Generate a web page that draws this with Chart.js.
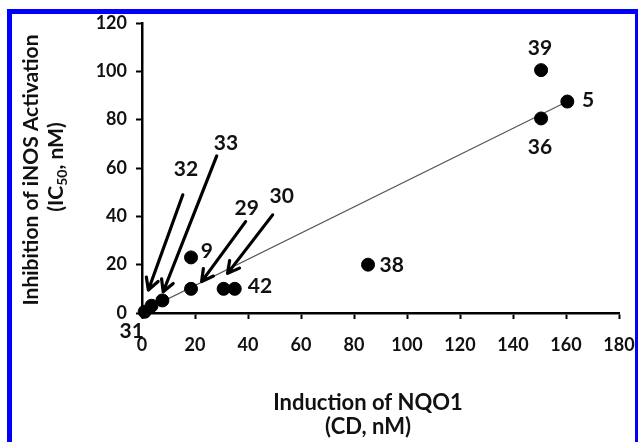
<!DOCTYPE html>
<html>
<head>
<meta charset="utf-8">
<script src="https://cdn.jsdelivr.net/npm/chart.js@4"></script>
<style>
  html, body { margin: 0; padding: 0; background: #fff; }
  #wrap { position: relative; width: 638px; height: 442px; }
  #frame {
    position: absolute; left: 7px; top: 9px; width: 623px; height: 440px;
    border-top: 5px solid #0000ff; border-left: 5px solid #0000ff; border-right: 3px solid #0000ff;
    pointer-events: none;
  }
</style>
</head>
<body>
<div id="wrap">
  <canvas id="chart" width="638" height="442"></canvas>
  <div id="frame"></div>
</div>
<script>
// compounds, NQO1 induction (CD, nM) vs iNOS inhibition (IC50, nM)
const compounds = ["31", "32", "33", "9", "29", "30", "42", "38", "39", "36", "5"];
const cdValues = [1, 3.6, 7.7, 18.5, 18.5, 30.8, 35, 85.3, 150.6, 150.6, 160.5];
const ic50Values = [0.5, 3, 5.2, 23, 10, 10, 10, 20, 100.5, 80.5, 87.5];

// fitted trend line end points
const trendX = [0, 160.5];
const trendY = [0.5, 87.5];

const xTicks = [0, 20, 40, 60, 80, 100, 120, 140, 160, 180];
const yTicks = [0, 20, 40, 60, 80, 100, 120];

// label positions (data units)
const labelText = ["39", "5", "36", "38", "42", "9", "30", "29", "33", "32", "31"];
const labelX = [150.2, 168.3, 150.2, 94.2, 44.5, 24.5, 52.7, 39.5, 31.7, 16.6, -3.9];
const labelY = [109.7, 88.2, 68.7, 19.9, 10.9, 25.4, 48.4, 43.5, 70.4, 59.6, -7.7];

// arrows pointing at the crowded points (data units)
const arrowFromX = [15.4, 28.2, 39.1, 49.3];
const arrowFromY = [48.9, 65, 37.8, 40.6];
const arrowToX = [2.4, 8.0, 22.5, 32.3];
const arrowToY = [9.5, 8.8, 13, 16.4];

const FONT = "Lato, 'Open Sans', sans-serif";

const annotations = {
  id: "annotations",
  afterDatasetsDraw(chart) {
    const { ctx, scales: { x, y } } = chart;
    ctx.save();
    // arrows
    ctx.strokeStyle = "#000";
    ctx.lineWidth = 3.2;
    ctx.lineCap = "round";
    ctx.lineJoin = "round";
    for (let i = 0; i < arrowFromX.length; i++) {
      const x0 = x.getPixelForValue(arrowFromX[i]);
      const y0 = y.getPixelForValue(arrowFromY[i]);
      const x1 = x.getPixelForValue(arrowToX[i]);
      const y1 = y.getPixelForValue(arrowToY[i]);
      const ang = Math.atan2(y1 - y0, x1 - x0);
      const head = 13;
      ctx.beginPath();
      ctx.moveTo(x0, y0);
      ctx.lineTo(x1, y1);
      ctx.moveTo(x1 - head * Math.cos(ang - 0.5), y1 - head * Math.sin(ang - 0.5));
      ctx.lineTo(x1, y1);
      ctx.lineTo(x1 - head * Math.cos(ang + 0.5), y1 - head * Math.sin(ang + 0.5));
      ctx.stroke();
    }
    // point labels
    ctx.fillStyle = "#111";
    ctx.font = "bold 21px " + FONT;
    ctx.textAlign = "center";
    ctx.textBaseline = "middle";
    labelText.forEach((t, i) => {
      ctx.fillText(t, x.getPixelForValue(labelX[i]), y.getPixelForValue(labelY[i]));
    });
    ctx.restore();
  },
  afterDraw(chart) {
    const { ctx, chartArea } = chart;
    ctx.save();
    ctx.fillStyle = "#111";
    ctx.textBaseline = "middle";
    // y axis title, two lines, rotated
    const midY = (chartArea.top + chartArea.bottom) / 2;
    ctx.translate(31, midY + 2);
    ctx.rotate(-Math.PI / 2);
    ctx.textAlign = "center";
    ctx.font = "bold 21px " + FONT;
    ctx.fillText("Inhibition of iNOS Activation", 0, 0);
    ctx.restore();

    ctx.save();
    ctx.fillStyle = "#111";
    ctx.textBaseline = "middle";
    ctx.translate(56, midY - 1);
    ctx.rotate(-Math.PI / 2);
    const big = "bold 21px " + FONT;
    const small = "bold 14px " + FONT;
    ctx.font = big;
    const w1 = ctx.measureText("(IC").width;
    const w3 = ctx.measureText(", nM)").width;
    ctx.font = small;
    const w2 = ctx.measureText("50").width;
    let px = -(w1 + w2 + w3) / 2;
    ctx.textAlign = "left";
    ctx.font = big;
    ctx.fillText("(IC", px, 0);
    px += w1;
    ctx.font = small;
    ctx.fillText("50", px, 6);
    px += w2;
    ctx.font = big;
    ctx.fillText(", nM)", px, 0);
    ctx.restore();

    // x axis title
    ctx.save();
    ctx.fillStyle = "#111";
    ctx.textAlign = "center";
    ctx.textBaseline = "middle";
    ctx.font = "bold 22px " + FONT;
    const cx = chartArea.left + 226;
    ctx.fillText("Induction of NQO1", cx, chartArea.bottom + 90);
    ctx.fillText("(CD, nM)", cx, chartArea.bottom + 114);
    ctx.restore();
  }
};

const points = compounds.map((c, i) => ({ x: cdValues[i], y: ic50Values[i] }));
const trend = trendX.map((v, i) => ({ x: v, y: trendY[i] }));

new Chart(document.getElementById("chart"), {
  type: "scatter",
  data: {
    datasets: [
      {
        type: "line",
        data: trend,
        borderColor: "#555",
        borderWidth: 1.2,
        pointRadius: 0,
        fill: false,
        order: 2,
      },
      {
        data: points,
        backgroundColor: "#000",
        borderColor: "#000",
        pointRadius: 6.5,
        pointHoverRadius: 6.5,
        clip: false,
        order: 1,
      },
    ],
  },
  options: {
    responsive: false,
    animation: false,
    devicePixelRatio: 1,
    layout: { padding: { top: 23, right: 19, left: 0, bottom: 0 } },
    plugins: { legend: { display: false }, tooltip: { enabled: false } },
    scales: {
      x: {
        type: "linear",
        min: 0,
        max: 180,
        afterFit: (s) => { s.height = 129; s.paddingRight = 0; s.paddingLeft = 0; },
        afterBuildTicks: (s) => { s.ticks = xTicks.map((v) => ({ value: v })); },
        border: { display: true, color: "#000", width: 2.5 },
        grid: { drawOnChartArea: false, drawTicks: true, tickLength: 6, tickColor: "#000", tickWidth: 2 },
        ticks: { color: "#111", padding: 15, maxRotation: 0, font: { family: FONT, size: 18, weight: "bold" } },
      },
      y: {
        type: "linear",
        min: 0,
        max: 120,
        afterFit: (s) => { s.width = 142; s.paddingTop = 0; s.paddingBottom = 0; },
        afterBuildTicks: (s) => { s.ticks = yTicks.map((v) => ({ value: v })); },
        border: { display: true, color: "#000", width: 2.5 },
        grid: { drawOnChartArea: false, drawTicks: true, tickLength: 6, tickColor: "#000", tickWidth: 2 },
        ticks: { color: "#111", padding: 9, font: { family: FONT, size: 18, weight: "bold" } },
      },
    },
  },
  plugins: [annotations],
});
</script>
</body>
</html>
